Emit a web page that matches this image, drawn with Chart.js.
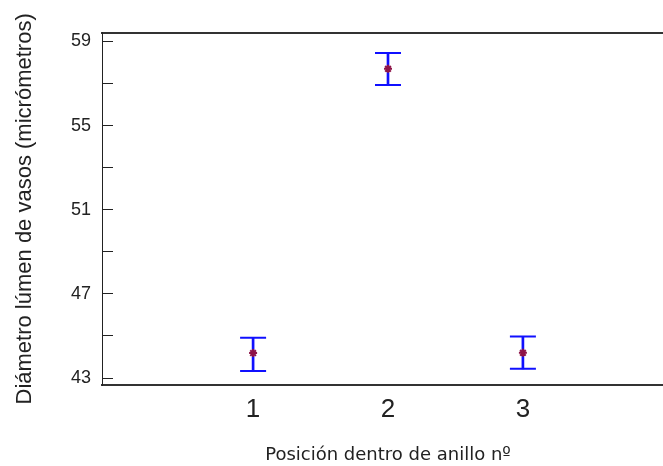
<!DOCTYPE html>
<html>
<head>
<meta charset="utf-8">
<script src="https://cdn.jsdelivr.net/npm/chart.js@4.4.1/dist/chart.umd.min.js"></script>
<style>
  html, body { margin: 0; padding: 0; background: #fff; overflow: hidden; }
  #wrap { width: 663px; height: 466px; overflow: hidden; }
</style>
</head>
<body>
<div id="wrap"><canvas id="chart" width="674" height="466"></canvas></div>
<script>
// positions along the ring and the mean vessel diameter with its interval
const positions = [1, 2, 3]
const means = [44.19, 57.70, 44.20]
const lower = [43.34, 56.93, 43.44]
const upper = [44.91, 58.45, 44.97]

const yMinorTicks = [43, 44, 45, 46, 47, 48, 49, 50, 51, 52, 53, 54, 55, 56, 57, 58, 59]
const yLabelTicks = [43, 47, 51, 55, 59]
const xTicks = [1, 2, 3]

const blue = '#1010ff'
const textColor = '#222'

const stems = positions.map((x, i) => ({ x: x, y: [lower[i], upper[i]] }))
const lows = positions.map((x, i) => ({ x: x, y: lower[i] }))
const highs = positions.map((x, i) => ({ x: x, y: upper[i] }))
const centers = positions.map((x, i) => ({ x: x, y: means[i] }))

const ctx = document.getElementById('chart').getContext('2d')
new Chart(ctx, {
	type: 'scatter',
	data: {
		datasets: [
			{
				type: 'bar',
				data: stems,
				backgroundColor: blue,
				borderWidth: 0,
				barThickness: 2,
				order: 3
			},
			{
				data: lows,
				pointStyle: 'line',
				pointRadius: 13,
				borderColor: blue,
				borderWidth: 2,
				order: 2
			},
			{
				data: highs,
				pointStyle: 'line',
				pointRadius: 13,
				borderColor: blue,
				borderWidth: 2,
				order: 2
			},
			{
				data: centers,
				pointStyle: 'star',
				pointRadius: 4,
				borderColor: '#8e1448',
				borderWidth: 2,
				order: 0
			}
		]
	},
	options: {
		responsive: false,
		animation: false,
		layout: { autoPadding: false, padding: { top: 29, right: 0, bottom: 0, left: 0 } },
		plugins: {
			legend: { display: false },
			tooltip: { enabled: false }
		},
		scales: {
			x: {
				type: 'linear',
				position: 'bottom',
				offset: false,
				min: -0.12,
				max: 4.12,
				afterBuildTicks: s => { s.ticks = xTicks.map(v => ({ value: v })) },
				afterFit: s => { s.height = 81 },
				grid: { display: false, drawTicks: false },
				border: { display: true, color: '#333', width: 2 },
				ticks: {
					color: textColor,
					padding: 9,
					font: { family: 'Liberation Sans', size: 26 }
				},
				title: {
					display: true,
					text: 'Posición dentro de anillo nº',
					color: textColor,
					padding: { top: 11, bottom: 0 },
					font: { family: 'DejaVu Sans', size: 18 }
				}
			},
			xTop: {
				type: 'linear',
				position: 'top',
				offset: false,
				min: -0.12,
				max: 4.12,
				afterFit: s => { s.height = 0 },
				grid: { display: false, drawTicks: false },
				border: { display: true, color: '#333', width: 2 },
				ticks: { display: false }
			},
			y: {
				position: 'left',
				min: 42.67,
				max: 59.41,
				afterBuildTicks: s => { s.ticks = yMinorTicks.map(v => ({ value: v })) },
				afterFit: s => { s.width = 102 },
				grid: {
					drawOnChartArea: false,
					drawTicks: true,
					tickLength: -11,
					color: '#222',
					lineWidth: 1
				},
				border: { display: true, color: '#222', width: 1 },
				ticks: {
					color: textColor,
					padding: 22,
					font: { family: 'Liberation Sans', size: 18 },
					callback: v => yLabelTicks.includes(v) ? String(v) : ''
				},
				title: {
					display: true,
					text: 'Diámetro lúmen de vasos (micrómetros)',
					color: textColor,
					padding: { top: 12, bottom: 0 },
					font: { family: 'Liberation Sans', size: 22 }
				}
			},
			yRight: {
				position: 'right',
				min: 42.67,
				max: 59.41,
				afterBuildTicks: s => { s.ticks = yLabelTicks.map(v => ({ value: v })) },
				afterFit: s => { s.width = 0 },
				grid: {
					drawOnChartArea: false,
					drawTicks: true,
					tickLength: -11,
					color: '#222'
				},
				border: { display: true, color: '#222', width: 1 },
				ticks: { display: false }
			}
		}
	}
})
</script>
</body>
</html>
